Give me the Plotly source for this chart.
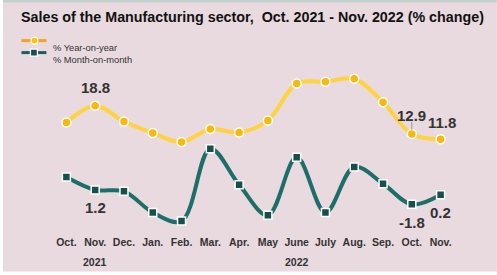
import plotly.graph_objects as go

months = ["Oct.", "Nov.", "Dec.", "Jan.", "Feb.", "Mar.", "Apr.", "May", "June", "July", "Aug.", "Sep.", "Oct.", "Nov."]
yoy = [15.3, 18.8, 15.5, 13.1, 11.2, 13.9, 13.2, 15.7, 23.4, 23.8, 24.4, 19.5, 12.9, 11.8]
mom = [3.9, 1.2, 0.9, -3.5, -5.3, 9.8, 2.3, -4.1, 8.0, -3.5, 6.0, 2.5, -1.8, 0.2]
years = [("2021", 1), ("2022", 8)]
labels_yoy = {1: "18.8", 12: "12.9", 13: "11.8"}
labels_mom = {1: "1.2", 12: "-1.8", 13: "0.2"}

W, H = 497, 275
L, R, T, B = 51.6, 455.1, 52.4, 234.4
PW, PH = R - L, B - T

def px(x):
    return (x - L) / PW

def py(y):
    return (B - y) / PH

FONT = "Liberation Sans, Arial, sans-serif"
TXT = "#333333"
YOY_LINE = "#ffd23f"
YOY_MK = "#f7b90c"
MOM_LINE = "#1c6e69"
MOM_MK = "#174f4b"
BG = "#e8dade"

xs = list(range(len(months)))

fig = go.Figure()
fig.add_trace(go.Scatter(
    x=xs, y=yoy, mode="lines+markers", line=dict(color=YOY_LINE, width=4, shape="spline", smoothing=1),
    marker=dict(symbol="circle", size=9, color=YOY_MK, line=dict(color="white", width=1.5)),
    name="% Year-on-year", showlegend=False, cliponaxis=False))
fig.add_trace(go.Scatter(
    x=xs, y=mom, mode="lines+markers", line=dict(color=MOM_LINE, width=4, shape="spline", smoothing=1),
    marker=dict(symbol="square", size=8, color=MOM_MK, line=dict(color="white", width=1.5)),
    name="% Month-on-month", showlegend=False, cliponaxis=False))

shapes = [
    dict(type="rect", xref="paper", yref="paper", x0=px(0), x1=px(W), y0=py(0), y1=py(H),
         fillcolor="white", line_width=0, layer="below"),
    dict(type="rect", xref="paper", yref="paper", x0=px(2.5), x1=px(W), y0=py(2.5), y1=py(272),
         fillcolor=BG, line_width=0, layer="below"),
    dict(type="rect", xref="paper", yref="paper", x0=px(2.5), x1=px(W), y0=py(0), y1=py(3),
         fillcolor="#c3d1cf", line_width=0, layer="below"),
    # leader line for 12.9
    dict(type="line", xref="x", yref="y", ysizemode="pixel", yanchor=yoy[12], x0=12, x1=12, y0=4, y1=12,
         line=dict(color="#9a9a9a", width=1)),
    # legend symbols
    dict(type="line", xref="paper", yref="paper", x0=px(21), x1=px(46), y0=py(41), y1=py(41),
         line=dict(color="#f7a21b", width=3)),
    dict(type="circle", xref="paper", yref="paper", x0=px(30.5), x1=px(37.5), y0=py(44.5), y1=py(37.5),
         fillcolor="#fcc30b", line=dict(color="white", width=1.3)),
    dict(type="line", xref="paper", yref="paper", x0=px(21), x1=px(46), y0=py(53), y1=py(53),
         line=dict(color="#1c5e59", width=3)),
    dict(type="rect", xref="paper", yref="paper", x0=px(30), x1=px(37), y0=py(56.5), y1=py(49.5),
         fillcolor="#174f4b", line=dict(color="white", width=1.3)),
]

ann = []
bold = dict(family=FONT, size=15, color=TXT, weight="bold")
for i, t in labels_yoy.items():
    ann.append(dict(x=i, y=yoy[i], xref="x", yref="y", text=t, showarrow=False, font=bold,
                    yshift=18 if i != 13 else 17, xshift=0 if i != 13 else 1))
for i, t in labels_mom.items():
    ann.append(dict(x=i, y=mom[i], xref="x", yref="y", text=t, showarrow=False, font=bold,
                    yshift=-18))
for t, i in years:
    ann.append(dict(x=i, y=py(262), xref="x", yref="paper", yanchor="middle", text=t, showarrow=False,
                    font=dict(family=FONT, size=10.5, color=TXT, weight="bold")))
ann.append(dict(x=px(51), y=py(41), xref="paper", yref="paper", text="% Year-on-year", showarrow=False,
                xanchor="left", font=dict(family=FONT, size=9.3, color=TXT)))
ann.append(dict(x=px(51), y=py(53), xref="paper", yref="paper", text="% Month-on-month", showarrow=False,
                xanchor="left", font=dict(family=FONT, size=9.3, color=TXT)))

fig.update_layout(
    width=W, height=H,
    margin=dict(l=L, r=W - R, t=T, b=H - B, pad=0),
    paper_bgcolor="white", plot_bgcolor="rgba(0,0,0,0)",
    title=dict(text="Sales of the Manufacturing sector,  Oct. 2021 - Nov. 2022 (% change)",
               xref="container", yref="container", x=21 / W, xanchor="left", y=1 - 17 / H, yanchor="middle",
               font=dict(family=FONT, size=14.3, color="#111111", weight="bold")),
    xaxis=dict(range=[-0.5, 13.5], tickvals=xs, ticktext=months, showgrid=False, zeroline=False,
               showline=False, ticks="", tickfont=dict(family=FONT, size=10.5, color=TXT, weight="bold")),
    yaxis=dict(range=[-8, 30], visible=False),
    shapes=shapes, annotations=ann, showlegend=False,
)
fig.write_html("out.html", config={"displayModeBar": False},
               post_script="document.body.style.margin='0';document.body.style.padding='0';")
